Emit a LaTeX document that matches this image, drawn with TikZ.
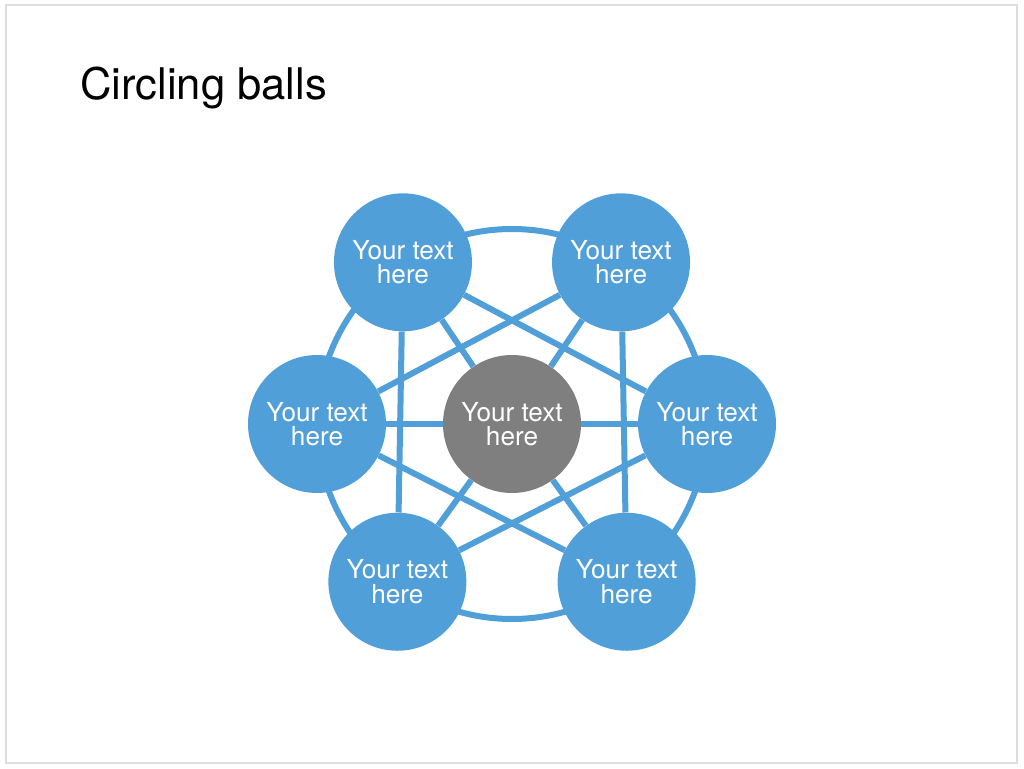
\documentclass[tikz,border=0pt]{standalone}
\usepackage{fontspec}
\setmainfont{TeX Gyre Heros}
\usetikzlibrary{backgrounds}
\definecolor{ballblue}{RGB}{81,159,216}
\definecolor{hubgray}{RGB}{127,127,127}
\definecolor{framegray}{RGB}{221,221,221}

\begin{document}
\begin{tikzpicture}[x=0.25mm, y=0.25mm,
    every node/.style={font=\fontsize{18.6}{17.5}\selectfont},
    ball/.style = {circle, fill=ballblue, text=white, align=center,
                   minimum size=34.5mm, inner sep=0pt},
    hub/.style  = {ball, fill=hubgray},
    link/.style = {ballblue, line width=1.5mm}
]
\useasboundingbox (0,0) rectangle (1024,768);
\draw[framegray, line width=0.5mm] (6,5) rectangle (1017,763);

\node (title) [anchor=base west, inner sep=0pt,
               font=\fontsize{31}{37}\selectfont] at (80,668) {Circling balls};

\node (c)  [hub]  at (512,344) {Your text\\here};

\node (r)  [ball] at ([shift={(0:195)}]c)   {Your text\\here};
\node (tr) [ball] at ([shift={(56:195)}]c)  {Your text\\here};
\node (tl) [ball] at ([shift={(124:195)}]c) {Your text\\here};
\node (l)  [ball] at ([shift={(180:195)}]c) {Your text\\here};
\node (bl) [ball] at ([shift={(234:195)}]c) {Your text\\here};
\node (br) [ball] at ([shift={(306:195)}]c) {Your text\\here};

\begin{scope}[on background layer]
% ring behind the balls
\draw[link] (c.center) circle (195);
% spokes
\draw[link] (c) -- (r);
\draw[link] (c) -- (tr);
\draw[link] (c) -- (tl);
\draw[link] (c) -- (l);
\draw[link] (c) -- (bl);
\draw[link] (c) -- (br);
% star
\draw[link] (tl) -- (bl);
\draw[link] (tr) -- (br);
\draw[link] (tl) -- (r);
\draw[link] (tr) -- (l);
\draw[link] (l)  -- (br);
\draw[link] (r)  -- (bl);
\end{scope}

\end{tikzpicture}
\end{document}
